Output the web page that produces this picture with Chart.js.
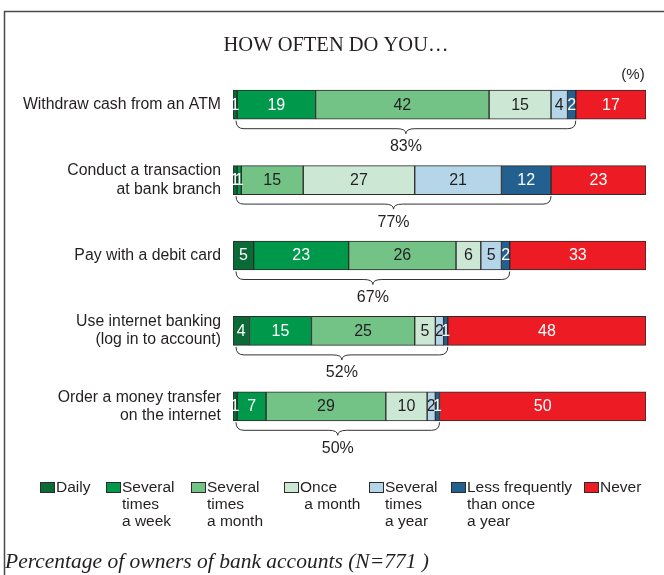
<!DOCTYPE html>
<html>
<head>
<meta charset="utf-8">
<script src="https://cdn.jsdelivr.net/npm/chart.js@4/dist/chart.umd.min.js"></script>
<style>
  html, body { margin: 0; padding: 0; background: #fff; }
  #wrap { width: 664px; height: 575px; position: relative; }
</style>
</head>
<body>
<div id="wrap"><canvas id="c" width="664" height="575"></canvas></div>
<script>
// Activities (y-axis categories, multi-line labels)
const activities = [
  ["Withdraw cash from an ATM"],
  ["Conduct a transaction", "at bank branch"],
  ["Pay with a debit card"],
  ["Use internet banking", "(log in to account)"],
  ["Order a money transfer", "on the internet"]
];

// Share of respondents per frequency (%)
const daily          = [1, 1, 5, 4, 1];
const severalWeek    = [19, 1, 23, 15, 7];
const severalMonth   = [42, 15, 26, 25, 29];
const onceMonth      = [15, 27, 6, 5, 10];
const severalYear    = [4, 21, 5, 2, 2];
const lessThanYearly = [2, 12, 2, 1, 1];
const never          = [17, 23, 33, 48, 50];

// Share of users at least occasionally (bracketed totals, %)
const usersTotal = [83, 77, 67, 52, 50];

// Legend captions (one entry per line)
const seriesLabels = [
  ["Daily"],
  ["Several", "times", "a week"],
  ["Several", "times", "a month"],
  ["Once", " a month"],
  ["Several", "times", "a year"],
  ["Less frequently", "than once", "a year"],
  ["Never"]
];

const seriesData = [daily, severalWeek, severalMonth, onceMonth, severalYear, lessThanYearly, never];
const fills = ["#0b6b37", "#00984a", "#73c386", "#cde7d5", "#b5d5e8", "#22608f", "#ed1c24"];
const textColors = ["#ffffff", "#ffffff", "#231f20", "#231f20", "#231f20", "#ffffff", "#ffffff"];
const legendBoxX = [40, 106, 191, 284, 369, 451, 584];

const SANS = '"Liberation Sans", Arial, sans-serif';
const SERIF = '"Liberation Serif", "Times New Roman", serif';
const INK = '#231f20';

const decorations = {
  id: 'decorations',
  afterDatasetsDraw(chart) {
    const ctx = chart.ctx;
    const xs = chart.scales.x;
    ctx.save();

    // values inside the segments
    ctx.font = '16px ' + SANS;
    ctx.textAlign = 'center';
    ctx.textBaseline = 'middle';
    chart.data.datasets.forEach((ds, i) => {
      const meta = chart.getDatasetMeta(i);
      meta.data.forEach((bar, j) => {
        const cx = (bar.x + bar.base) / 2;
        ctx.fillStyle = textColors[i];
        ctx.fillText(String(ds.data[j]), cx, bar.y + 0.5);
      });
    });

    // curly braces with totals of users
    const meta0 = chart.getDatasetMeta(0);
    ctx.strokeStyle = '#333';
    ctx.lineWidth = 1;
    meta0.data.forEach((bar, j) => {
      const x0 = xs.getPixelForValue(0) + 3;
      const x1 = xs.getPixelForValue(usersTotal[j]);
      const xm = (x0 + x1) / 2;
      const y0 = bar.y + bar.height / 2 + 1.5;
      const yh = y0 + 8;
      const yt = y0 + 13;
      ctx.beginPath();
      ctx.moveTo(x0, y0);
      ctx.quadraticCurveTo(x0, yh, x0 + 8, yh);
      ctx.lineTo(xm - 9, yh);
      ctx.quadraticCurveTo(xm, yh, xm, yt);
      ctx.quadraticCurveTo(xm, yh, xm + 9, yh);
      ctx.lineTo(x1 - 8, yh);
      ctx.quadraticCurveTo(x1, yh, x1, y0);
      ctx.stroke();
      ctx.fillStyle = INK;
      ctx.font = '16px ' + SANS;
      ctx.fillText(usersTotal[j] + '%', xm, y0 + 26);
    });
    ctx.restore();
  },
  afterDraw(chart) {
    const ctx = chart.ctx;
    ctx.save();

    // frame
    ctx.strokeStyle = '#4a4a4a';
    ctx.lineWidth = 1.5;
    ctx.beginPath();
    ctx.moveTo(4.5, 575);
    ctx.lineTo(4.5, 11.5);
    ctx.lineTo(664, 11.5);
    ctx.stroke();

    // title
    ctx.fillStyle = INK;
    ctx.textAlign = 'center';
    ctx.textBaseline = 'middle';
    ctx.font = '20.5px ' + SERIF;
    ctx.fillText('HOW OFTEN DO YOU\u2026', 336, 46);

    // unit
    ctx.font = '15px ' + SANS;
    ctx.fillText('(%)', 633, 75);

    // legend
    ctx.textAlign = 'left';
    ctx.font = '15.5px ' + SANS;
    seriesLabels.forEach((lines, i) => {
      const bx = legendBoxX[i];
      ctx.fillStyle = fills[i];
      ctx.fillRect(bx, 482, 14, 10);
      ctx.strokeStyle = '#2b2b2b';
      ctx.lineWidth = 1;
      ctx.strokeRect(bx + 0.5, 482.5, 14, 10);
      ctx.fillStyle = INK;
      lines.forEach((t, k) => {
        ctx.fillText(t, bx + 16, 488 + k * 17);
      });
    });

    // footnote
    ctx.font = 'italic 21.5px ' + SERIF;
    ctx.fillText('Percentage of owners of bank accounts (N=771 )', 5, 562);
    ctx.restore();
  }
};

new Chart(document.getElementById('c'), {
  type: 'bar',
  data: {
    labels: activities,
    datasets: seriesData.map((d, i) => ({
      label: seriesLabels[i].join(' '),
      data: d,
      backgroundColor: fills[i],
      borderColor: '#2b2b2b',
      borderWidth: 1,
      borderSkipped: false,
      barThickness: 29
    }))
  },
  options: {
    indexAxis: 'y',
    responsive: false,
    animation: false,
    layout: { padding: { left: 0, right: 18, top: 67, bottom: 131 } },
    plugins: { legend: { display: false }, tooltip: { enabled: false }, title: { display: false } },
    scales: {
      x: { stacked: true, min: 0, max: 100, display: false },
      y: {
        stacked: true,
        grid: { display: false, drawTicks: false },
        border: { display: false },
        ticks: {
          color: INK,
          padding: 12,
          font: { family: SANS, size: 15.8, lineHeight: 1.15 }
        },
        afterFit(scale) { scale.width = 233; }
      }
    }
  },
  plugins: [decorations]
});
</script>
</body>
</html>
